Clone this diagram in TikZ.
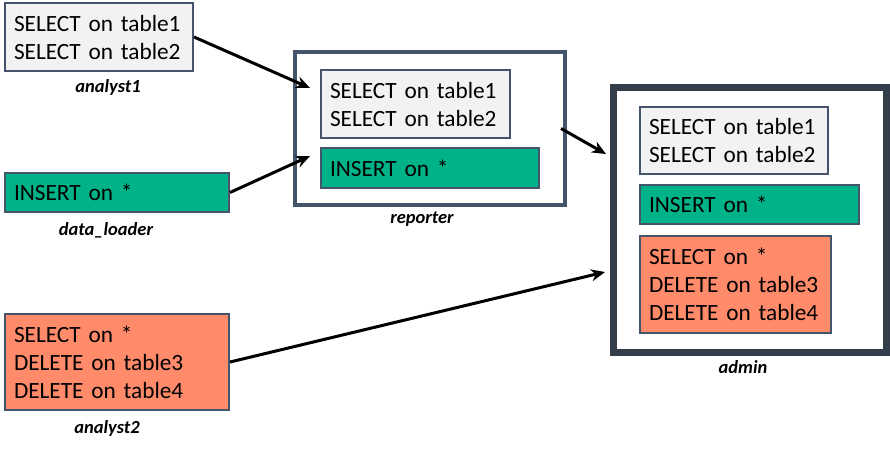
\documentclass[tikz,border=0pt]{standalone}
\usepackage{fontspec}
\setmainfont{Carlito}
\usetikzlibrary{arrows.meta,positioning,calc}
\definecolor{boxline}{HTML}{44546A}
\definecolor{roleline}{HTML}{323E4A}
\definecolor{selfill}{HTML}{F2F2F2}
\definecolor{insfill}{HTML}{00B288}
\definecolor{delfill}{HTML}{FF8B6B}
\newcommand{\privfont}{\fontsize{23.3}{28}\selectfont}
\begin{document}
\begin{tikzpicture}[x=1pt,y=-1pt,
  grant/.style={rectangle,draw=boxline,line width=2pt,inner xsep=9pt,inner ysep=0pt,align=left,font=\privfont},
  selgrant/.style={grant,fill=selfill},
  insgrant/.style={grant,fill=insfill},
  delgrant/.style={grant,fill=delfill},
  role/.style={rectangle,draw=boxline,line width=4pt},
  bigrole/.style={rectangle,draw=roleline,line width=7pt},
  rolename/.style={inner sep=0pt,font=\fontsize{18.5}{20}\selectfont\bfseries\itshape},
  conn/.style={line width=3pt,-{Stealth[length=14pt,width=12pt,inset=4.5pt]}}]
\useasboundingbox (0,0) rectangle (890,450);

% users on the left
\node (analyst1)[selgrant,minimum width=188pt,minimum height=68pt,text width=170pt] at (99,37) {SELECT on table1\\SELECT on table2};
\node (analyst1name)[rolename] at (108,87) {analyst1};
\node (loader)[insgrant,minimum width=224pt,minimum height=39pt,text width=206pt] at (117,192.5) {INSERT on *};
\node (loadername)[rolename] at (106,230) {data\_loader};
\node (analyst2)[delgrant,minimum width=224pt,minimum height=96pt,text width=206pt] at (117,362) {SELECT on *\\DELETE on table3\\DELETE on table4};
\node (analyst2name)[rolename] at (107,428) {analyst2};

% reporter role
\node (reporter)[role,minimum width=270pt,minimum height=153pt] at (430,128.5) {};
\node (repsel)[selgrant,minimum width=189pt,minimum height=68pt,text width=171pt] at (415.5,104) {SELECT on table1\\SELECT on table2};
\node (repins)[insgrant,minimum width=218pt,minimum height=40pt,text width=200pt] at (430,168) {INSERT on *};
\node (repname)[rolename] at (422,219) {reporter};

% admin role
\node (admin)[bigrole,minimum width=273pt,minimum height=265.5pt] at (750,220) {};
\node (admsel)[selgrant,minimum width=188pt,minimum height=67pt,text width=170pt] at (734,140.5) {SELECT on table1\\SELECT on table2};
\node (admins)[insgrant,minimum width=219pt,minimum height=39pt,text width=201pt] at (749.5,204.5) {INSERT on *};
\node (admdel)[delgrant,minimum width=191pt,minimum height=97pt,text width=173pt] at (735.5,284.5) {SELECT on *\\DELETE on table3\\DELETE on table4};
\node (admname)[rolename] at (743,367) {admin};

\coordinate (repin1) at (310,88);
\coordinate (repin2) at (310,156);
\coordinate (admin1) at (606,154);
\coordinate (admin2) at (605,272);

\draw [conn] (analyst1.east) -- (repin1);
\draw [conn] (loader.east) -- (repin2);
\draw [conn] ([xshift=-6pt]reporter.east) -- (admin1);
\draw [conn] (analyst2.east) -- (admin2);
\end{tikzpicture}
\end{document}
